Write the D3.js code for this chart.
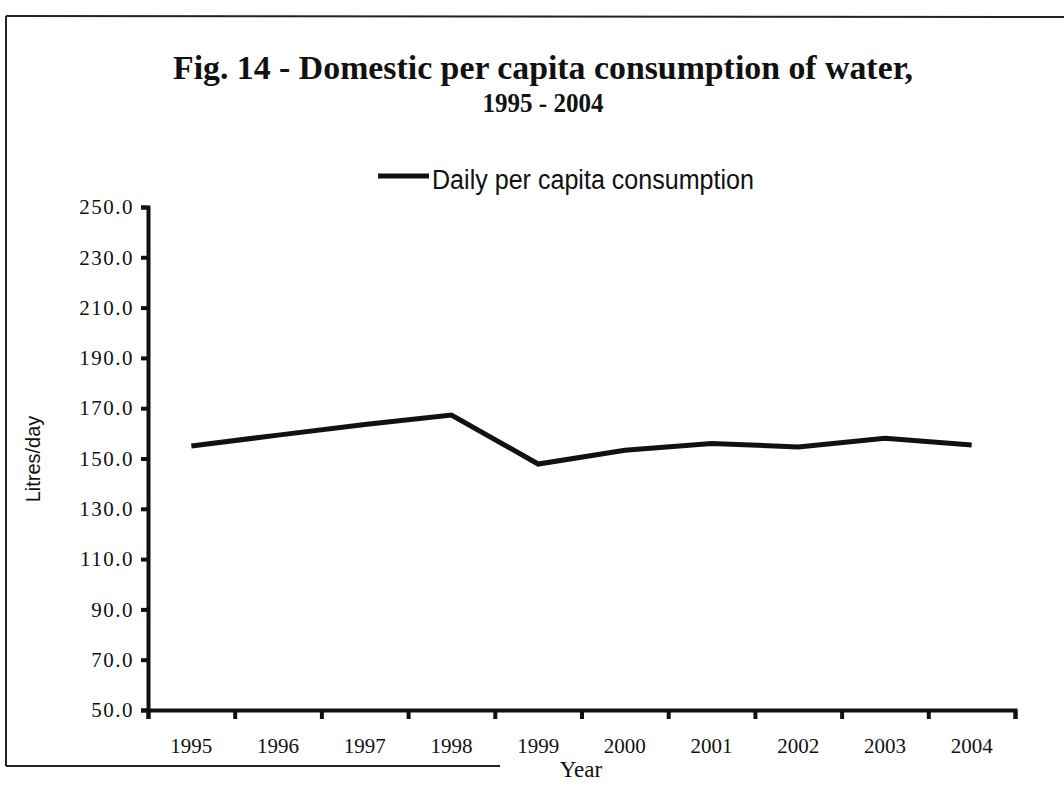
<!DOCTYPE html>
<meta charset="utf-8">
<style>
body { margin: 0; background: #fff; }
text { fill: #111; }
.serif { font-family: "Liberation Serif", "Times New Roman", serif; }
.sans { font-family: "Liberation Sans", Arial, sans-serif; }
.axis path, .axis line { stroke: #111; }
</style>
<svg width="1064" height="795"></svg>
<script src="https://d3js.org/d3.v7.min.js"></script>
<script>

var years = ["1995", "1996", "1997", "1998", "1999", "2000", "2001", "2002", "2003", "2004"];
var consumption = [155.0, 159.3, 163.5, 167.3, 147.8, 153.3, 156.0, 154.6, 158.0, 155.4];
var yTicks = [50, 70, 90, 110, 130, 150, 170, 190, 210, 230, 250];

var svg = d3.select("svg");

var plotLeft = 148, plotRight = 1015, plotTop = 207, plotBottom = 710;

// frame of the scanned page
var frame = svg.append("g").attr("stroke", "#222").attr("stroke-width", 2).attr("fill", "none");
frame.append("line").attr("x1", 6).attr("y1", 16).attr("x2", 1064).attr("y2", 17);
frame.append("line").attr("x1", 6).attr("y1", 16).attr("x2", 6).attr("y2", 766);
frame.append("line").attr("x1", 6).attr("y1", 766).attr("x2", 500).attr("y2", 766);

// title
svg.append("text").attr("class", "serif")
    .attr("x", 543).attr("y", 79)
    .attr("text-anchor", "middle")
    .attr("font-size", 33).attr("font-weight", "bold")
    .attr("textLength", 740).attr("lengthAdjust", "spacingAndGlyphs")
    .text("Fig. 14 - Domestic per capita consumption of water,");
svg.append("text").attr("class", "serif")
    .attr("x", 543).attr("y", 112)
    .attr("text-anchor", "middle")
    .attr("font-size", 28).attr("font-weight", "bold")
    .attr("textLength", 121).attr("lengthAdjust", "spacingAndGlyphs")
    .text("1995 - 2004");

// legend
svg.append("line")
    .attr("x1", 378).attr("y1", 176).attr("x2", 429).attr("y2", 176)
    .attr("stroke", "#111").attr("stroke-width", 5);
svg.append("text").attr("class", "sans")
    .attr("x", 432).attr("y", 189)
    .attr("font-size", 27)
    .attr("textLength", 322).attr("lengthAdjust", "spacingAndGlyphs")
    .text("Daily per capita consumption");

var x = d3.scaleBand().domain(years).range([plotLeft, plotRight]);
var xEdges = d3.scaleLinear().domain([0, years.length]).range([plotLeft, plotRight]);
var y = d3.scaleLinear().domain([50, 250]).range([plotBottom, plotTop]);

// y axis
var yAxis = svg.append("g").attr("class", "axis")
    .attr("transform", "translate(" + plotLeft + ",0)")
    .call(d3.axisLeft(y).tickValues(yTicks).tickSize(7).tickPadding(7)
        .tickFormat(d3.format(".1f")));
yAxis.select(".domain").attr("stroke-width", 4);
yAxis.selectAll(".tick line").attr("stroke-width", 4);
yAxis.selectAll(".tick text").attr("font-size", 21).attr("letter-spacing", 1.5)
    .attr("font-family", "Liberation Serif, serif").attr("fill", "#111");

// x axis: ticks at category edges, labels at category centres
var xAxis = svg.append("g").attr("class", "axis")
    .attr("transform", "translate(0," + plotBottom + ")")
    .call(d3.axisBottom(xEdges).ticks(years.length).tickSize(9).tickSizeOuter(9).tickFormat(""));
xAxis.select(".domain").attr("stroke-width", 4);
xAxis.selectAll(".tick line").attr("stroke-width", 4);

var xLabels = svg.append("g")
    .attr("transform", "translate(0," + plotBottom + ")")
    .call(d3.axisBottom(x).tickSize(0).tickPadding(28));
xLabels.select(".domain").remove();
xLabels.selectAll(".tick text").attr("font-size", 21)
    .attr("font-family", "Liberation Serif, serif").attr("fill", "#111");

// axis titles
svg.append("text").attr("class", "serif")
    .attr("x", 581).attr("y", 777)
    .attr("text-anchor", "middle").attr("font-size", 23)
    .text("Year");
svg.append("text").attr("class", "sans")
    .attr("transform", "translate(40,459) rotate(-90)")
    .attr("text-anchor", "middle").attr("font-size", 20)
    .text("Litres/day");

// the series
var line = d3.line()
    .x(function(d, i) { return x(years[i]) + x.bandwidth() / 2; })
    .y(function(d) { return y(d); });

svg.append("path")
    .datum(consumption)
    .attr("fill", "none")
    .attr("stroke", "#111")
    .attr("stroke-width", 5)
    .attr("stroke-linejoin", "miter")
    .attr("d", line);

</script>
